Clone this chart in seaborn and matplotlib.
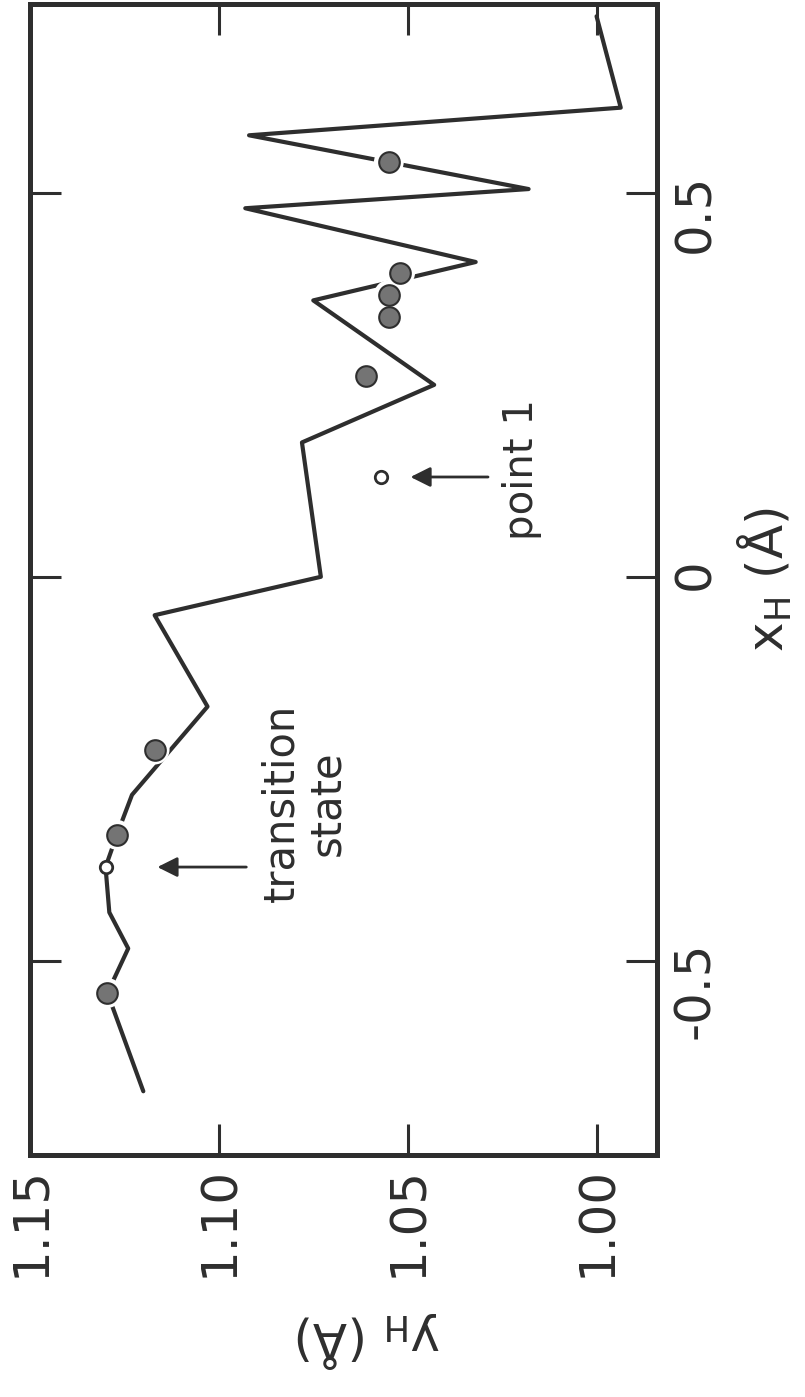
import numpy as np
import pandas as pd
import seaborn as sns
import matplotlib.pyplot as plt

# reaction path, hydrogen position (A); plot is drawn turned 90 degrees
path_xh = [-0.67, -0.542, -0.484, -0.437, -0.378, -0.336, -0.284, -0.169, -0.05, 0.0,
           0.175, 0.25, 0.36, 0.41, 0.48, 0.505, 0.575, 0.611, 0.73]
path_yh = [1.120, 1.1295, 1.124, 1.129, 1.130, 1.127, 1.123, 1.103, 1.117, 1.073,
           1.078, 1.043, 1.075, 1.032, 1.093, 1.018, 1.092, 0.9936, 1.000]

filled_xh = [-0.542, -0.336, -0.225, 0.262, 0.339, 0.367, 0.396, 0.54]
filled_yh = [1.1295, 1.127, 1.117, 1.061, 1.055, 1.055, 1.052, 1.055]

open_xh = [-0.378, 0.13]
open_yh = [1.130, 1.057]

yh_ticks = [1.15, 1.10, 1.05, 1.00]
yh_labels = ['1.15', '1.10', '1.05', '1.00']
xh_ticks = [-0.5, 0, 0.5]
xh_labels = ['-0.5', '0', '0.5']

ink = '#2e2e2e'

sns.set_style('ticks')
plt.rcParams['font.family'] = ['DejaVu Sans']
plt.rcParams['axes.unicode_minus'] = False

fig = plt.figure(figsize=(8.05, 13.97), dpi=100)
ax = fig.add_axes([30 / 805, 1 - 1155 / 1397, (657 - 30) / 805, (1155 - 4) / 1397])

path = pd.DataFrame({'xh': path_xh, 'yh': path_yh})
sns.lineplot(data=path, x='yh', y='xh', sort=False, estimator=None, color=ink, lw=3.0, ax=ax, zorder=2)

# white halo so the line looks broken round the dots, like the original
sns.scatterplot(x=filled_yh, y=filled_xh, s=460, color='white', edgecolor='none', ax=ax, zorder=3)
sns.scatterplot(x=filled_yh, y=filled_xh, s=220, color='#747474', edgecolor=ink, linewidth=1.5, ax=ax, zorder=4)
sns.scatterplot(x=open_yh, y=open_xh, s=80, color='white', edgecolor=ink, linewidth=2, ax=ax, zorder=4)

ax.set_xlim(1.15, 0.984)
ax.set_ylim(-0.753, 0.746)

ax.set_xticks(yh_ticks)
ax.set_xticklabels(yh_labels)
ax.set_yticks(xh_ticks)
ax.set_yticklabels(xh_labels)
ax.yaxis.tick_right()
ax.yaxis.set_label_position('right')
ax.tick_params(axis='both', direction='in', length=22, width=2.2, color=ink,
               labelsize=36, labelcolor=ink, top=True, bottom=True, left=True, right=True)
ax.tick_params(axis='x', labelrotation=90, pad=8)
ax.tick_params(axis='y', labelrotation=90, pad=10)
for s in ax.spines.values():
    s.set_linewidth(3.6)
    s.set_color(ink)

ax.set_ylabel('x$_\\mathregular{H}$ (Å)', fontsize=36, color=ink, rotation=90, labelpad=12)
ax.set_xlabel('y$_\\mathregular{H}$ (Å)', fontsize=36, color=ink, rotation=180, labelpad=14)
ax.xaxis.set_label_coords(0.54, -0.135)

# annotations
ax.annotate('', xy=(1.117, -0.378), xytext=(1.092, -0.378),
            arrowprops=dict(arrowstyle='-|>', color=ink, lw=2, mutation_scale=30))
ax.text(1.089, -0.295, 'transition\nstate', rotation=90, ha='left', va='center',
        multialignment='center', fontsize=30, color=ink, linespacing=1.1)
ax.annotate('', xy=(1.050, 0.13), xytext=(1.028, 0.13),
            arrowprops=dict(arrowstyle='-|>', color=ink, lw=2, mutation_scale=30))
ax.text(1.025, 0.14, 'point 1', rotation=90, ha='left', va='center', fontsize=29, color=ink)

fig.savefig('out.png', dpi=100, facecolor='white')
